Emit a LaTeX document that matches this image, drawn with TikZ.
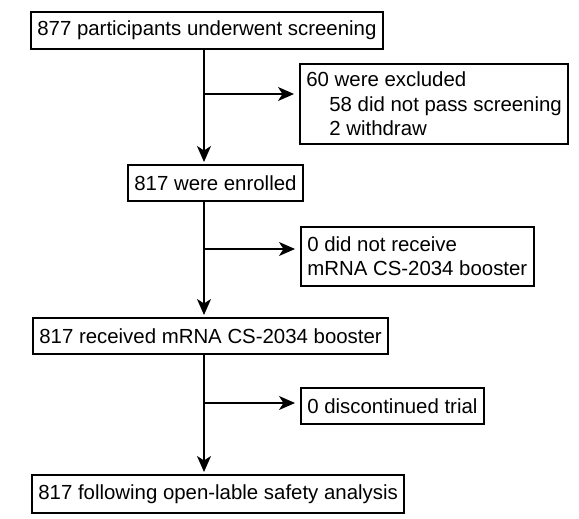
\documentclass[tikz,border=0pt]{standalone}
\usepackage{fontspec}
\setmainfont{Liberation Sans}
\usetikzlibrary{arrows.meta}
\tikzset{
  box/.style={draw, line width=1.7pt, anchor=north west, align=left,
    inner xsep=6.5pt, inner ysep=0pt, font=\fontsize{20.4}{24.5}\selectfont},
  flow/.style={line width=1.7pt, -{Stealth[length=16pt,width=14pt,inset=4.5pt]}}
}
\begin{document}
\begin{tikzpicture}[x=1pt,y=-1pt]
    \useasboundingbox (0,0) rectangle (579,519);

    % main boxes
    \node[box, minimum height=37pt] (screen) at (30,11) {877 participants underwent screening};
    \node[box, minimum height=36pt] (enrolled) at (127,164) {817 were enrolled};
    \node[box, minimum height=36pt] (booster) at (32,317) {817 received mRNA CS-2034 booster};
    \node[box, minimum height=38pt] (safety) at (31,474) {817 following open-lable safety analysis};

    % side boxes
    \node[box, minimum height=80pt] (excluded) at (299,63)
      {60 were excluded\\\hspace*{23pt}58 did not pass screening\\\hspace*{23pt}2 withdraw};
    \node[box, minimum height=59pt] (noboost) at (300,226) {0 did not receive\\mRNA CS-2034 booster};
    \node[box, minimum height=36pt] (discont) at (300,387) {0 discontinued trial};

    % vertical arrows
    \coordinate (spine) at (204,0);
    \draw[flow, shorten >=2pt] (spine |- screen.south) -- (spine |- enrolled.north);
    \draw[flow, shorten >=2pt] (spine |- enrolled.south) -- (spine |- booster.north);
    \draw[flow, shorten >=2pt] (spine |- booster.south) -- (spine |- safety.north);

    % side arrows
    \coordinate (b1) at (204,94);
    \coordinate (b2) at (204,249);
    \coordinate (b3) at (204,403);
    \draw[flow, shorten >=5pt] (b1) -- (b1 -| excluded.west);
    \draw[flow, shorten >=5pt] (b2) -- (b2 -| noboost.west);
    \draw[flow, shorten >=5pt] (b3) -- (b3 -| discont.west);
\end{tikzpicture}
\end{document}
